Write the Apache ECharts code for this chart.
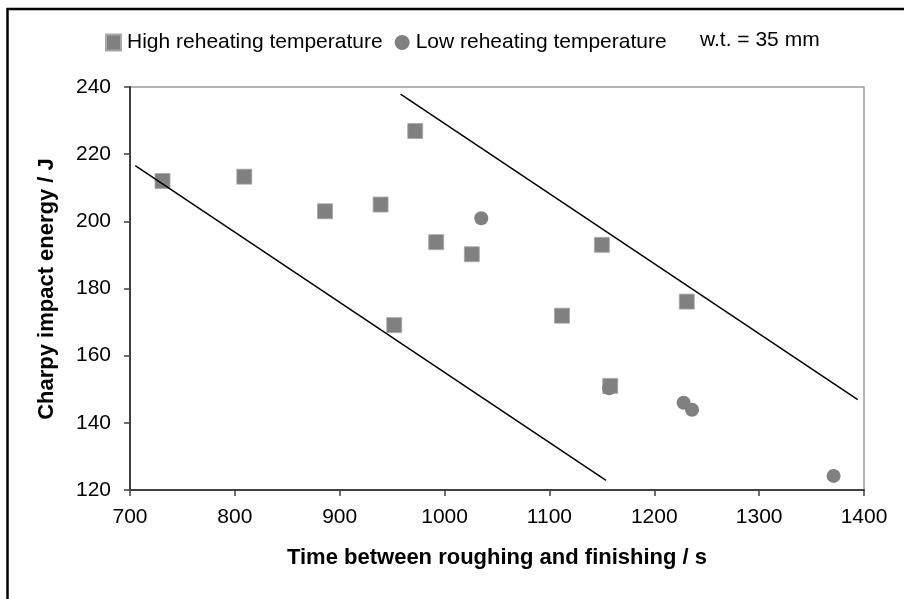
<!DOCTYPE html>
<html>
<head>
<meta charset="utf-8">
<script src="https://cdn.jsdelivr.net/npm/echarts@6/dist/echarts.min.js"></script>
<style>
html,body{margin:0;padding:0;background:#fff;}
#chart{width:904px;height:599px;}
</style>
</head>
<body>
<div id="chart"></div>
<script>
// Data
var highX = [731, 809, 886, 939, 972, 992, 1026, 952, 1150, 1112, 1231, 1158];
var highY = [212, 213.3, 203, 205, 226.9, 193.8, 190.2, 169.1, 193, 171.9, 176.1, 151];
var lowX = [1035, 1157, 1228, 1236, 1371];
var lowY = [200.9, 150.3, 146, 143.9, 124.2];
var bandLowX = [705, 1154];
var bandLowY = [216.6, 122.9];
var bandHighX = [958, 1394];
var bandHighY = [237.9, 146.9];
var xTicks = {min: 700, max: 1400, step: 100};
var yTicks = {min: 120, max: 240, step: 20};
var seriesNames = ['High reheating temperature', 'Low reheating temperature'];
var noteText = 'w.t. = 35 mm';
var xTitle = 'Time between roughing and finishing / s';
var yTitle = 'Charpy impact energy / J';

function pairs(xs, ys) { return xs.map(function (x, i) { return [x, ys[i]]; }); }

var FONT = '"Liberation Sans", Arial, sans-serif';
var chart = echarts.init(document.getElementById('chart'), null, {renderer: 'canvas'});
chart.setOption({
  animation: false,
  backgroundColor: '#ffffff',
  textStyle: {fontFamily: FONT, color: '#000'},
  grid: {left: 130, right: 40, top: 87, bottom: 109, show: true, borderColor: '#9a9a9a', borderWidth: 1.5, backgroundColor: 'transparent'},
  legend: {
    left: 100, top: 27, itemWidth: 15, itemHeight: 16, itemGap: 12,
    textStyle: {fontSize: 21, fontFamily: FONT, color: '#000', padding: [0, 0, 0, 1]},
    data: [{name: seriesNames[0], icon: 'rect'}, {name: seriesNames[1], icon: 'circle'}]
  },
  xAxis: {
    type: 'value', min: xTicks.min, max: xTicks.max, interval: xTicks.step,
    axisLine: {lineStyle: {color: '#404040', width: 2}},
    axisTick: {show: true, length: 6, lineStyle: {color: '#404040', width: 1.5}},
    axisLabel: {fontSize: 21, color: '#000', margin: 17, fontFamily: FONT, formatter: function (v) { return String(v); }},
    splitLine: {show: false}
  },
  yAxis: {
    type: 'value', min: yTicks.min, max: yTicks.max, interval: yTicks.step,
    axisLine: {show: true, lineStyle: {color: '#404040', width: 2}},
    axisTick: {show: true, length: 6, lineStyle: {color: '#404040', width: 1.5}},
    axisLabel: {fontSize: 21, color: '#000', margin: 19, fontFamily: FONT, formatter: function (v) { return String(v); }},
    splitLine: {show: false}
  },
  graphic: [
    {type: 'rect', silent: true, z: 100, shape: {x: 7.5, y: 9, width: 1000, height: 1000},
     style: {fill: 'none', stroke: '#000', lineWidth: 2.5}},
    {type: 'text', x: 700, y: 40, silent: true,
     style: {text: noteText, fontSize: 21, fontFamily: FONT, fill: '#000', align: 'left', verticalAlign: 'middle'}},
    {type: 'text', x: 497, y: 558, silent: true,
     style: {text: xTitle, fontSize: 22, fontWeight: 'bold', fontFamily: FONT, fill: '#000', align: 'center', verticalAlign: 'middle'}},
    {type: 'text', x: 47, y: 289, rotation: Math.PI / 2, silent: true,
     style: {text: yTitle, fontSize: 22, fontWeight: 'bold', fontFamily: FONT, fill: '#000', align: 'center', verticalAlign: 'middle'}}
  ],
  series: [
    {name: seriesNames[0], type: 'scatter', symbol: 'rect', symbolSize: 15, z: 2,
     itemStyle: {color: '#808080', borderColor: '#a8a8a8', borderWidth: 0.8, opacity: 1},
     data: pairs(highX, highY)},
    {name: seriesNames[1], type: 'scatter', symbol: 'circle', symbolSize: 14, z: 3,
     itemStyle: {color: '#808080', opacity: 1},
     data: pairs(lowX, lowY)},
    {type: 'line', z: 4, silent: true, showSymbol: false, symbol: 'none',
     lineStyle: {color: '#000', width: 1.5}, data: pairs(bandLowX, bandLowY)},
    {type: 'line', z: 4, silent: true, showSymbol: false, symbol: 'none',
     lineStyle: {color: '#000', width: 1.5}, data: pairs(bandHighX, bandHighY)}
  ]
});
</script>
</body>
</html>
